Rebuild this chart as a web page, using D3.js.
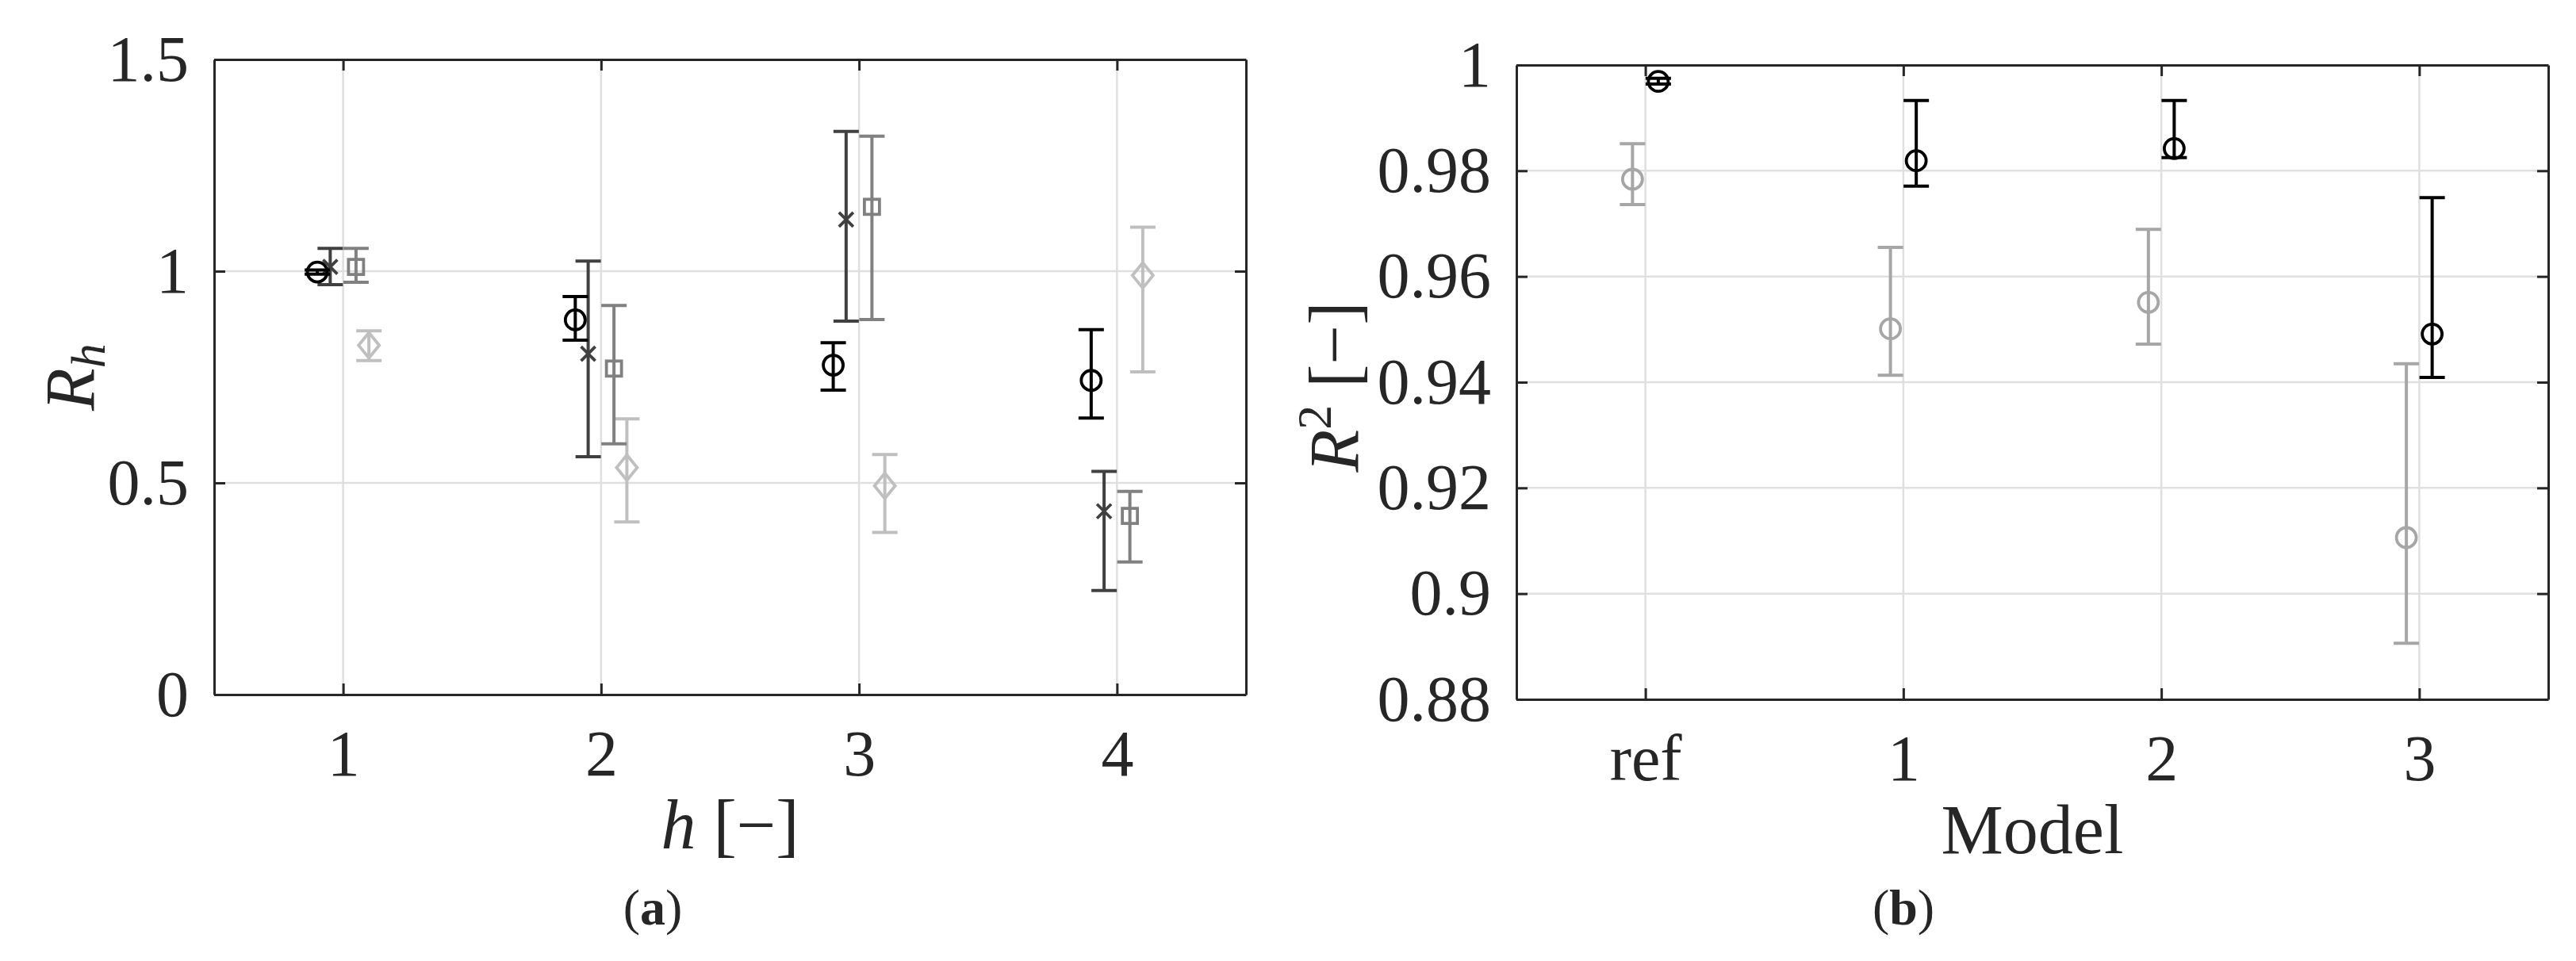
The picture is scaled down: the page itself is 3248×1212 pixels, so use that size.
<!DOCTYPE html>
<html>
<head>
<meta charset="utf-8">
<script src="https://cdn.jsdelivr.net/npm/d3@7"></script>
<style>
  html, body { margin: 0; padding: 0; background: #fff; }
  svg { display: block; }
  text { font-family: "Liberation Serif", "Times New Roman", serif; fill: #262626; }
</style>
</head>
<body>
<svg id="chart" width="3248" height="1212"></svg>
<script>
// ---------------- DATA ----------------
// Panel (a): R_h versus h
const hValues = [1, 2, 3, 4];
const hTicks = [1, 2, 3, 4];
const rhTicks = [0, 0.5, 1, 1.5];

const circleA   = [0.998, 0.885, 0.778, 0.742];
const circleALo = [0.993, 0.837, 0.719, 0.653];
const circleAHi = [1.003, 0.940, 0.831, 0.862];

const crossA    = [1.010, 0.805, 1.122, 0.433];
const crossALo  = [0.968, 0.562, 0.882, 0.246];
const crossAHi  = [1.054, 1.024, 1.330, 0.527];

const squareA   = [1.010, 0.770, 1.152, 0.422];
const squareALo = [0.974, 0.592, 0.886, 0.313];
const squareAHi = [1.054, 0.919, 1.319, 0.480];

const diamondA   = [0.825, 0.536, 0.493, 0.990];
const diamondALo = [0.789, 0.408, 0.383, 0.762];
const diamondAHi = [0.859, 0.651, 0.567, 1.104];

// Panel (b): R^2 versus model
const models = ["ref", "1", "2", "3"];
const r2Ticks = [0.88, 0.9, 0.92, 0.94, 0.96, 0.98, 1];

const grayB   = [0.9784, 0.9501, 0.9551, 0.9106];
const grayBLo = [0.9736, 0.9413, 0.9472, 0.8906];
const grayBHi = [0.9851, 0.9655, 0.9689, 0.9435];

const blackB   = [0.9969, 0.9819, 0.9842, 0.9491];
const blackBLo = [0.9964, 0.9771, 0.9825, 0.9409];
const blackBHi = [0.9975, 0.9933, 0.9933, 0.9749];

// ---------------- DRAW ----------------
const svg = d3.select("#chart");
const axisColor = "#262626";
const gridColor = "#dfdfdf";
const tickFont = 82;
const labelFont = 88;

function makePanel(box, xDomain, yDomain, xTickVals, xTickFmt, yTickVals, yTickFmt) {
  const g = svg.append("g");
  const x = d3.scaleLinear().domain(xDomain).range([box.x0, box.x1]);
  const y = d3.scaleLinear().domain(yDomain).range([box.y1, box.y0]);

  // grid
  g.append("g").selectAll("line").data(xTickVals).join("line")
    .attr("x1", d => x(d)).attr("x2", d => x(d))
    .attr("y1", box.y0).attr("y2", box.y1)
    .attr("stroke", gridColor).attr("stroke-width", 2.5);
  g.append("g").selectAll("line").data(yTickVals).join("line")
    .attr("x1", box.x0).attr("x2", box.x1)
    .attr("y1", d => y(d)).attr("y2", d => y(d))
    .attr("stroke", gridColor).attr("stroke-width", 2.5);

  const tl = -14;
  const styleAxis = sel => {
    sel.select(".domain").attr("stroke", axisColor).attr("stroke-width", 3);
    sel.selectAll(".tick line").attr("stroke", axisColor).attr("stroke-width", 3);
  };
  const gb = g.append("g").attr("transform", `translate(0,${box.y1})`)
    .call(d3.axisBottom(x).tickValues(xTickVals).tickFormat(xTickFmt).tickSize(tl).tickSizeOuter(0));
  styleAxis(gb);
  gb.selectAll(".tick text").attr("y", 102).attr("dy", 0)
    .style("font-size", tickFont + "px").attr("fill", axisColor);
  const gt = g.append("g").attr("transform", `translate(0,${box.y0})`)
    .call(d3.axisTop(x).tickValues(xTickVals).tickFormat("").tickSize(tl).tickSizeOuter(0));
  styleAxis(gt);
  const gl = g.append("g").attr("transform", `translate(${box.x0},0)`)
    .call(d3.axisLeft(y).tickValues(yTickVals).tickFormat(yTickFmt).tickSize(tl).tickSizeOuter(0));
  styleAxis(gl);
  gl.selectAll(".tick text").attr("x", -32)
    .style("font-size", tickFont + "px").attr("fill", axisColor);
  const gr = g.append("g").attr("transform", `translate(${box.x1},0)`)
    .call(d3.axisRight(y).tickValues(yTickVals).tickFormat("").tickSize(tl).tickSizeOuter(0));
  styleAxis(gr);
  g.selectAll(".tick text").attr("font-family", null).attr("font-size", null);
  return { g, x, y };
}

function errorBars(p, xs, vals, lo, hi, color) {
  const cap = 16;
  const eg = p.g.append("g").attr("stroke", color).attr("stroke-width", 4).attr("fill", "none");
  const d = vals.map((v, i) => ({ x: xs[i], v, lo: lo[i], hi: hi[i] }));
  eg.selectAll("line.v").data(d).join("line").attr("class", "v")
    .attr("x1", e => p.x(e.x)).attr("x2", e => p.x(e.x))
    .attr("y1", e => p.y(e.lo)).attr("y2", e => p.y(e.hi));
  eg.selectAll("line.lo").data(d).join("line").attr("class", "lo")
    .attr("x1", e => p.x(e.x) - cap).attr("x2", e => p.x(e.x) + cap)
    .attr("y1", e => p.y(e.lo)).attr("y2", e => p.y(e.lo));
  eg.selectAll("line.hi").data(d).join("line").attr("class", "hi")
    .attr("x1", e => p.x(e.x) - cap).attr("x2", e => p.x(e.x) + cap)
    .attr("y1", e => p.y(e.hi)).attr("y2", e => p.y(e.hi));
  return d;
}

function markers(p, d, shape, color) {
  const mg = p.g.append("g").attr("stroke", color).attr("stroke-width", 3.8).attr("fill", "none");
  d.forEach(e => {
    const cx = p.x(e.x), cy = p.y(e.v);
    if (shape === "circle") {
      mg.append("circle").attr("cx", cx).attr("cy", cy).attr("r", 12.5);
    } else if (shape === "cross") {
      const s = 9;
      mg.append("path").attr("d", `M${cx - s},${cy - s}L${cx + s},${cy + s}M${cx - s},${cy + s}L${cx + s},${cy - s}`);
    } else if (shape === "square") {
      const s = 9.5;
      mg.append("rect").attr("x", cx - s).attr("y", cy - s).attr("width", 2 * s).attr("height", 2 * s);
    } else if (shape === "diamond") {
      const w = 13, h = 16;
      mg.append("path").attr("d", `M${cx},${cy - h}L${cx + w},${cy}L${cx},${cy + h}L${cx - w},${cy}Z`);
    }
  });
}

// ---- Panel (a)
const pa = makePanel({ x0: 270, x1: 1571, y0: 75, y1: 876 }, [0.5, 4.5], [0, 1.5],
  hTicks, d => String(d), rhTicks, d => String(d));

const seriesA = [
  { vals: circleA, lo: circleALo, hi: circleAHi, off: -0.1, shape: "circle", color: "#000000" },
  { vals: crossA, lo: crossALo, hi: crossAHi, off: -0.05, shape: "cross", color: "#404040" },
  { vals: squareA, lo: squareALo, hi: squareAHi, off: 0.05, shape: "square", color: "#808080" },
  { vals: diamondA, lo: diamondALo, hi: diamondAHi, off: 0.1, shape: "diamond", color: "#bfbfbf" }
];
seriesA.slice().reverse().forEach(s => {
  const xs = hValues.map(h => h + s.off);
  const d = errorBars(pa, xs, s.vals, s.lo, s.hi, s.color);
  markers(pa, d, s.shape, s.color);
});

svg.append("text").attr("transform", `translate(118,${(75 + 876) / 2}) rotate(-90)`)
  .attr("text-anchor", "middle").style("font-size", labelFont + "px")
  .call(t => {
    t.append("tspan").attr("font-style", "italic").text("R");
    t.append("tspan").attr("font-style", "italic").attr("dy", 14).style("font-size", "62px").text("h");
  });
svg.append("text").attr("x", (270 + 1571) / 2).attr("y", 1070).attr("text-anchor", "middle")
  .style("font-size", labelFont + "px")
  .call(t => {
    t.append("tspan").attr("font-style", "italic").text("h");
    t.append("tspan").attr("dx", 22).text("[\u2212]");
  });
svg.append("text").attr("x", 823).attr("y", 1166).attr("text-anchor", "middle")
  .style("font-size", "64px")
  .call(t => {
    t.append("tspan").text("(");
    t.append("tspan").attr("font-weight", "bold").text("a");
    t.append("tspan").text(")");
  });

// ---- Panel (b)
const modelIdx = models.map((m, i) => i + 1);
const pb = makePanel({ x0: 1912, x1: 3213, y0: 82, y1: 882 }, [0.5, 4.5], [0.88, 1],
  modelIdx, d => models[d - 1], r2Ticks, d => String(+d.toFixed(2)));

const seriesB = [
  { vals: grayB, lo: grayBLo, hi: grayBHi, off: -0.05, color: "#a6a6a6" },
  { vals: blackB, lo: blackBLo, hi: blackBHi, off: 0.05, color: "#000000" }
];
seriesB.forEach(s => {
  const xs = modelIdx.map(i => i + s.off);
  const d = errorBars(pb, xs, s.vals, s.lo, s.hi, s.color);
  markers(pb, d, "circle", s.color);
});

svg.append("text").attr("transform", `translate(1712,${(82 + 882) / 2 + 6}) rotate(-90)`)
  .attr("text-anchor", "middle").style("font-size", labelFont + "px")
  .call(t => {
    t.append("tspan").attr("font-style", "italic").text("R");
    t.append("tspan").attr("dy", -34).style("font-size", "62px").text("2");
    t.append("tspan").attr("dy", 34).attr("dx", 22).text("[\u2212]");
  });
svg.append("text").attr("x", (1912 + 3213) / 2).attr("y", 1076).attr("text-anchor", "middle")
  .style("font-size", labelFont + "px").text("Model");
svg.append("text").attr("x", 2400).attr("y", 1166).attr("text-anchor", "middle")
  .style("font-size", "64px")
  .call(t => {
    t.append("tspan").text("(");
    t.append("tspan").attr("font-weight", "bold").text("b");
    t.append("tspan").text(")");
  });
</script>
</body>
</html>
